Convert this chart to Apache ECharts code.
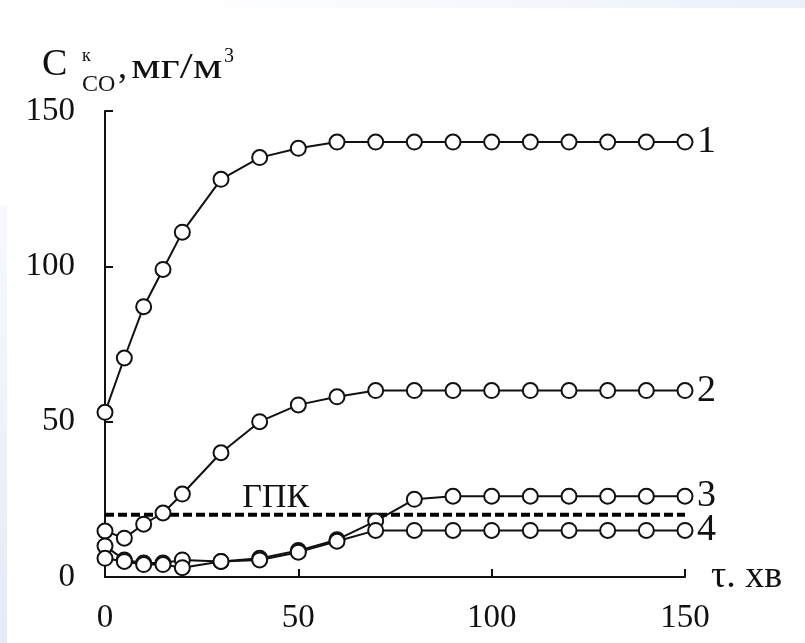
<!DOCTYPE html>
<html><head><meta charset="utf-8">
<script src="https://cdn.jsdelivr.net/npm/echarts@6/dist/echarts.min.js"></script>
<style>html,body{margin:0;padding:0;background:#fff}#c{width:805px;height:643px}</style>
</head><body><div id="c"></div>
<script>
const times = [0, 5, 10, 15, 20, 30, 40, 50, 60, 70, 80, 90, 100, 110, 120, 130, 140, 150];
const s1 = [53, 70.5, 87, 99, 111, 128, 135, 138, 140, 140, 140, 140, 140, 140, 140, 140, 140, 140];
const s2 = [14.8, 12.5, 17, 20.6, 26.7, 40, 50, 55.4, 58, 60, 60, 60, 60, 60, 60, 60, 60, 60];
const s3 = [10, 5.5, 4.5, 4.5, 5.5, 5, 6, 8.5, 12, 18, 25, 26, 26, 26, 26, 26, 26, 26];
const s4 = [6, 5, 4, 4, 3, 5, 5.5, 8, 11.5, 15, 15, 15, 15, 15, 15, 15, 15, 15];
const seriesNames = ['1', '2', '3', '4'];
const gpk = 20;
const gpkRange = [0, 150];
const xTicks = [0, 50, 100, 150];
const yTicks = [0, 50, 100, 150];

const FONT = 'Liberation Serif';
const chart = echarts.init(document.getElementById('c'));
function mk(name, vals) {
  return {
    name: name, type: 'line',
    data: times.map((t, i) => [t, vals[i]]),
    symbol: 'circle', symbolSize: 15,
    itemStyle: { color: '#fff', borderColor: '#111', borderWidth: 2 },
    lineStyle: { color: '#111', width: 2 },
    endLabel: { show: true, formatter: name, color: '#111', fontFamily: FONT, fontSize: 38, distance: 12 },
    z: 3
  };
}
const baseGraphic = [
  { type: 'rect', shape: { x: 0, y: 0, width: 805, height: 8 }, silent: true, z: -10,
    style: { fill: new echarts.graphic.LinearGradient(0, 0, 1, 0, [{ offset: 0, color: '#ffffff' }, { offset: 0.22, color: '#ffffff' }, { offset: 1, color: '#ebf0fa' }]) } },
  { type: 'rect', shape: { x: 0, y: 205, width: 7, height: 438 }, silent: true, z: -10,
    style: { fill: new echarts.graphic.LinearGradient(0, 0, 0, 1, [{ offset: 0, color: '#f7f9fd' }, { offset: 1, color: '#e4eaf7' }]) } },
  { type: 'text', x: 42, y: 65, style: { text: 'C', font: '38px "Liberation Serif"', fill: '#111', verticalAlign: 'middle' } },
  { type: 'text', x: 82, y: 56, style: { text: 'к', font: '18px "Liberation Serif"', fill: '#111', verticalAlign: 'middle' } },
  { type: 'text', x: 82, y: 85, style: { text: 'CO', font: '24px "Liberation Serif"', fill: '#111', verticalAlign: 'middle' } },
  { type: 'text', x: 118, y: 69, style: { text: ',', font: '36px "Liberation Serif"', fill: '#111', verticalAlign: 'middle' } },
  { type: 'text', x: 131, y: 69, scaleX: 1.3, style: { text: 'мг/м', font: '36px "Liberation Serif"', fill: '#111', verticalAlign: 'middle' } },
  { type: 'text', x: 224, y: 57, style: { text: '3', font: '20px "Liberation Serif"', fill: '#111', verticalAlign: 'middle' } }
];
const option = {
  backgroundColor: '#fff',
  animation: false,
  grid: { left: 105, right: 120, top: 111, bottom: 66 },
  xAxis: {
    type: 'value', min: 0, max: 150, interval: 50,
    name: 'τ. хв', nameLocation: 'end', nameGap: 26,
    nameTextStyle: { color: '#111', fontFamily: FONT, fontSize: 38, verticalAlign: 'middle', padding: [0, 0, 8, 0] },
    axisLine: { lineStyle: { color: '#111', width: 2 } },
    axisTick: { show: true, inside: true, length: 8, lineStyle: { color: '#111', width: 2 } },
    axisLabel: { color: '#111', fontFamily: FONT, fontSize: 33, margin: 25, formatter: v => xTicks.includes(v) ? String(v) : '' },
    splitLine: { show: false }
  },
  yAxis: {
    type: 'value', min: 0, max: 150, interval: 50,
    axisLine: { show: true, lineStyle: { color: '#111', width: 2 } },
    axisTick: { show: true, inside: true, length: 8, lineStyle: { color: '#111', width: 2 } },
    axisLabel: { color: '#111', fontFamily: FONT, fontSize: 33, margin: 30, formatter: v => yTicks.includes(v) ? String(v) : '' },
    splitLine: { show: false }
  },
  series: [
    {
      name: 'ГПК', type: 'line', data: gpkRange.map(x => [x, gpk]),
      symbol: 'none', lineStyle: { color: '#000', width: 4, type: [9, 4] }, z: 2
    },
    mk(seriesNames[0], s1), mk(seriesNames[1], s2), mk(seriesNames[2], s3), mk(seriesNames[3], s4)
  ],
  graphic: baseGraphic
};
chart.setOption(option);
const p = chart.convertToPixel({ gridIndex: 0 }, [35.5, gpk]);
chart.setOption({ graphic: baseGraphic.concat([
  { type: 'text', x: p[0], y: p[1], style: { text: 'ГПК', font: '34px "Liberation Serif"', fill: '#111', verticalAlign: 'bottom' } }
]) });
</script></body></html>
